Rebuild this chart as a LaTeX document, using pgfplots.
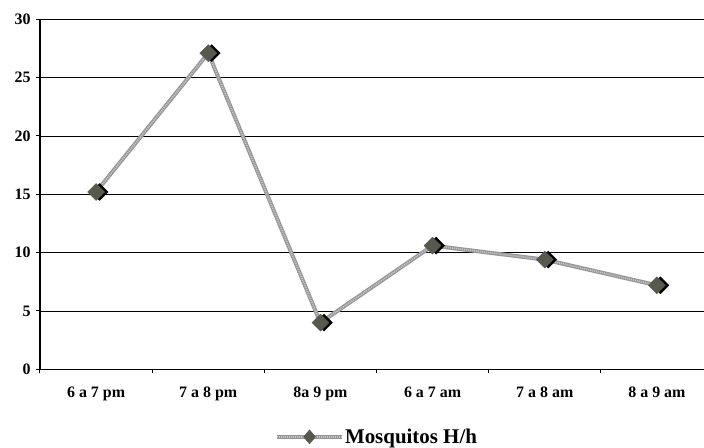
\documentclass[border=0pt]{standalone}
\usepackage{pgfplots}
\pgfplotsset{compat=1.18}
\usepackage{fontspec}
\setmainfont{Liberation Serif}
\definecolor{linegray}{HTML}{969696}
\definecolor{texgray}{HTML}{C8C8C8}
\definecolor{markgray}{HTML}{58584F}

\begin{document}
\begin{tikzpicture}
\begin{axis}[
    scale only axis,
    width=673bp, height=350bp,
    at={(0,0)}, anchor=south west,
    xmin=-0.5, xmax=5.5,
    ymin=0, ymax=30,
    axis x line*=bottom, axis y line*=left,
    axis line style={line width=1.2bp},
    ytick={0,5,...,30},
    ymajorgrids,
    grid style={black, line width=0.7bp},
    xtick={-0.5,0.5,...,5.5}, xticklabels={},
    extra x ticks={0,1,2,3,4,5},
    extra x tick labels={6 a 7 pm,7 a 8 pm,8a 9 pm,6 a 7 am,7 a 8 am,8 a 9 am},
    extra x tick style={major tick length=0pt},
    tick align=outside,
    major tick length=4bp,
    tick style={black, line width=1bp},
    ticklabel style={font=\fontsize{16}{18}\selectfont\bfseries},
    y tick label style={xshift=-2bp},
    x tick label style={yshift=-14bp},
    /pgf/number format/assume math mode=true,
    legend style={at={(0.5,-0.193)}, anchor=center, draw=none,
        font=\fontsize{21}{24}\selectfont\bfseries,
        nodes={inner sep=1bp}},
]

% linea
\addplot[linegray, line width=4bp, forget plot] coordinates {
    (0,15.2) (1,27.1) (2,4.0) (3,10.6) (4,9.4) (5,7.2)
};
\addplot[texgray, line width=1.6bp, dash pattern=on 1bp off 1bp, forget plot] coordinates {
    (0,15.2) (1,27.1) (2,4.0) (3,10.6) (4,9.4) (5,7.2)
};

% sombra de los marcadores
\addplot[only marks, mark=square*, mark size=6bp,
    mark options={rotate=45, fill=black, draw=black, xshift=2.5bp, yshift=-2.5bp},
    forget plot] coordinates {
    (0,15.2) (1,27.1) (2,4.0) (3,10.6) (4,9.4) (5,7.2)
};
\addplot[only marks, mark=square*, mark size=6bp,
    mark options={rotate=45, fill=markgray, draw=markgray},
    forget plot] coordinates {
    (0,15.2) (1,27.1) (2,4.0) (3,10.6) (4,9.4) (5,7.2)
};

\addlegendimage{legend image code/.code={
    \draw[linegray, line width=4bp] (0bp,0bp) -- (65bp,0bp);
    \draw[texgray, line width=1.6bp, dash pattern=on 1bp off 1bp] (0bp,0bp) -- (65bp,0bp);
    \fill[markgray] (32.5bp,0bp) +(-6bp,0bp) -- +(0bp,7bp) -- +(6bp,0bp) -- +(0bp,-7bp) -- cycle;
}}
\addlegendentry{Mosquitos H/h}

\end{axis}
\pgfresetboundingbox
\path[use as bounding box] (-40bp,-78.7bp) rectangle (664bp,369.3bp);
\end{tikzpicture}
\end{document}
